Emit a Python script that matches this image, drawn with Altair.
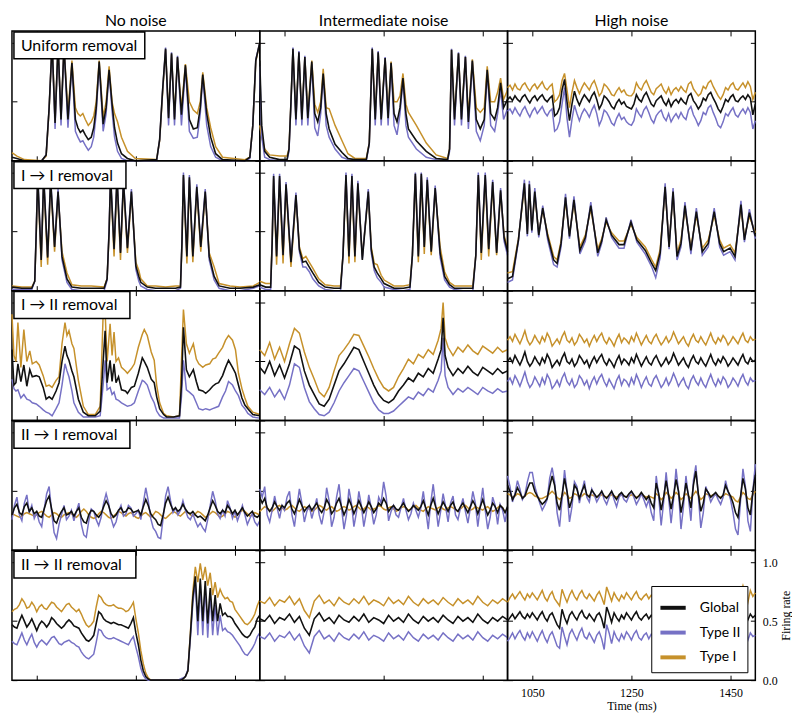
import altair as alt
import pandas as pd

COL_TITLES = ["No noise", "Intermediate noise", "High noise"]
ROW_LABELS = ["Uniform removal", "I \u2192 I removal", "I \u2192 II removal",
              "II \u2192 I removal", "II \u2192 II removal"]
SERIES = ["Global", "Type II", "Type I"]
COLORS = ["#111111", "#7671c5", "#c6912b"]
X_TICKS = [1050, 1250, 1450]
Y_TICKS = [0.0, 0.5, 1.0]
T5 = list(range(1000, 1501, 5))
T10 = list(range(1000, 1501, 10))

# ---------- Uniform removal / No noise ----------
A_t = [1000,1010,1025,1060,1069,1075,1081,1087,1093,1099,
       1105,1113,1121,1128,1133,1138,1143,1148,1154,1160,
       1165,1170,1176,1184,1190,1196,1202,1207,1213,1221,
       1233,1249,1292,1298,1304,1310,1316,1322,1328,1334,
       1342,1350,1358,1366,1374,1380,1385,1393,1401,1411,
       1425,1470,1480,1486,1492,1500]
A_glob = [3,2,0,0,5,45,100,32,99,35,
          97,35,83,35,28,24,26,22,18,20,
          28,45,84,31,45,77,48,28,15,6,
          2,0,1,18,60,95,36,91,35,88,
          39,81,35,27,28,45,73,40,20,6,
          1,0,3,30,85,100]
A_ii = [0,0,0,0,5,45,100,27,100,30,
        98,28,82,25,20,16,17,13,9,12,
        20,40,82,25,40,75,42,20,8,2,
        0,0,0,18,60,96,30,92,30,89,
        30,79,25,19,20,40,71,30,12,3,
        0,0,2,30,86,100]
A_i = [7,4,1,0,4,44,100,33,98,36,
       97,40,85,45,40,38,40,35,30,33,
       38,50,85,37,50,80,50,40,33,20,
       8,2,1,17,58,94,37,90,37,87,
       44,82,50,43,40,50,75,45,28,12,
       3,1,3,30,84,100]

# ---------- Uniform removal / Intermediate noise ----------
B_t = [1000,1004,1010,1020,1040,1055,1059,1063,1067,1073,
       1079,1085,1091,1097,1105,1111,1117,1123,1128,1134,
       1140,1152,1166,1178,1192,1215,1221,1227,1233,1239,
       1245,1253,1259,1265,1271,1277,1283,1289,1295,1300,
       1316,1336,1356,1379,1383,1387,1393,1401,1407,1415,
       1421,1429,1437,1445,1453,1459,1466,1474,1480,1486,
       1492,1500]
B_glob = [85,30,8,3,1,1,10,50,95,35,
          92,35,88,36,84,40,33,45,74,40,
          27,14,7,2,1,1,15,95,35,92,
          35,87,36,83,40,33,45,70,40,27,
          17,8,2,1,10,94,35,91,35,88,
          33,85,35,27,35,77,40,35,45,66,
          45,52]
B_ii = [80,20,3,1,0,0,8,48,96,30,
        93,30,89,30,82,28,21,40,72,30,
        20,10,3,1,0,0,14,96,30,93,
        30,88,30,82,30,22,40,68,30,20,
        10,3,1,0,8,95,30,92,30,89,
        27,84,25,17,30,75,30,25,40,60,
        35,44]
B_i = [30,20,10,5,4,4,10,50,95,36,
       92,37,88,40,85,48,41,50,78,45,
       44,30,17,6,2,2,15,95,37,92,
       37,87,40,84,50,50,55,74,48,41,
       30,15,5,2,10,94,37,91,37,88,
       38,86,45,41,45,80,50,50,58,70,
       52,60]

# ---------- Uniform removal / High noise (5 ms grid) ----------
C_glob = [52,54,51,55,52,50,54,56,52,49,
          53,55,51,54,56,52,50,53,55,38,
          40,45,60,69,50,34,48,59,52,47,
          52,56,53,50,55,58,52,44,48,55,
          53,50,46,44,49,52,48,50,46,45,
          44,48,56,52,50,55,58,53,48,46,
          51,53,55,50,47,52,46,50,52,49,
          53,50,48,55,57,51,48,44,47,53,
          51,56,58,53,49,44,41,46,52,50,
          54,56,51,50,53,55,52,56,53,39,
          48]
C_ii = [42,44,40,45,41,38,43,46,41,37,
        42,45,40,43,46,41,38,42,44,25,
        27,33,48,62,36,20,35,47,40,34,
        40,44,41,37,43,47,40,30,35,43,
        41,37,32,30,36,40,35,37,33,31,
        30,34,44,40,37,43,46,41,35,32,
        38,41,43,37,34,40,33,37,40,36,
        41,37,35,43,46,39,35,30,34,41,
        39,45,47,41,36,30,28,33,40,38,
        42,45,39,37,41,44,40,45,41,27,
        34]
C_i = [62,64,60,65,61,60,64,66,62,59,
       63,65,61,64,67,62,60,63,65,50,
       52,56,68,74,60,45,58,68,62,57,
       62,66,63,60,65,68,62,55,58,65,
       63,60,56,55,59,62,58,60,56,55,
       55,58,66,62,60,65,68,63,58,56,
       61,63,65,60,57,62,56,60,62,59,
       63,60,58,65,67,61,58,55,57,63,
       61,66,68,63,59,55,52,56,62,60,
       64,66,61,60,63,66,62,67,63,52,
       58]

# ---------- I -> I removal / No noise ----------
D_t = [1000,1020,1040,1046,1049,1052,1059,1064,1072,1078,
       1086,1093,1101,1111,1121,1140,1160,1186,1192,1196,
       1199,1206,1212,1219,1225,1233,1241,1250,1256,1260,
       1273,1290,1310,1330,1340,1343,1346,1353,1358,1365,
       1373,1381,1390,1398,1408,1418,1440,1460,1487,1500]
D_glob = [3,2,2,8,50,97,26,96,28,94,
          37,84,29,10,3,2,2,2,10,50,
          97,35,96,32,93,36,84,21,12,7,
          3,2,2,2,3,40,98,29,96,29,
          88,37,84,29,12,4,2,2,3,5]
D_ii = [1,1,1,8,52,99,27,98,29,96,
        38,86,26,7,1,0,0,0,9,52,
        99,36,98,33,95,37,86,18,8,4,
        1,0,0,0,2,42,100,30,98,30,
        90,38,86,26,9,2,0,0,2,4]
D_i = [4,3,3,8,48,95,20,94,22,92,
       33,82,33,15,5,4,4,3,10,48,
       95,29,94,26,91,32,82,24,17,10,
       4,4,3,4,4,38,96,23,94,24,
       86,33,82,32,20,6,4,3,4,7]

# ---------- I -> I removal / Intermediate noise ----------
E_t = [1000,1012,1022,1025,1028,1034,1040,1047,1053,1063,
       1073,1080,1087,1093,1100,1107,1119,1132,1150,1163,
       1168,1174,1180,1186,1192,1198,1207,1219,1225,1231,
       1237,1245,1251,1271,1290,1303,1308,1314,1320,1326,
       1332,1338,1346,1354,1364,1373,1383,1393,1410,1430,
       1436,1441,1447,1455,1462,1470,1478,1486,1493,1500]
E_glob = [5,3,3,40,97,29,97,30,90,24,
          81,35,24,25,20,15,7,3,2,2,
          30,98,29,97,29,91,26,84,35,20,
          15,10,6,2,2,3,30,99,29,99,
          37,94,33,87,32,12,5,2,2,2,
          30,98,32,98,35,92,32,85,45,33]
E_ii = [3,1,1,40,99,30,99,31,92,25,
        83,33,20,20,16,10,4,1,0,0,
        30,100,30,99,30,93,27,86,32,17,
        11,7,3,1,0,1,30,100,30,100,
        38,96,34,89,28,9,3,1,0,0,
        30,100,33,100,36,94,33,87,42,30]
E_i = [8,6,6,40,95,22,95,23,88,20,
       79,37,27,29,24,19,10,5,4,4,
       30,96,23,95,24,89,29,82,37,23,
       22,13,9,4,4,5,30,97,24,97,
       31,92,30,85,37,16,7,4,4,4,
       30,96,26,96,29,90,30,83,47,36]

# ---------- I -> I removal / High noise ----------
F_t = [1000,1010,1022,1034,1040,1044,1049,1055,1063,1071,
       1081,1093,1100,1108,1117,1125,1134,1146,1157,1168,
       1182,1190,1199,1210,1225,1235,1249,1261,1278,1291,
       1299,1308,1318,1326,1334,1342,1350,1358,1370,1381,
       1393,1405,1417,1428,1436,1449,1459,1471,1478,1488,
       1500]
F_glob = [10,12,43,91,48,90,51,84,47,70,
          46,26,23,40,79,46,77,34,45,72,
          32,42,60,47,39,39,58,43,34,23,
          17,32,88,37,84,29,40,72,34,67,
          33,40,67,40,33,36,29,73,43,66,
          46]
F_ii = [7,9,42,94,46,93,49,87,45,72,
        43,22,20,37,82,44,80,31,42,75,
        29,40,62,45,36,36,60,41,31,20,
        11,28,91,35,87,26,37,75,31,70,
        30,37,70,37,30,33,26,76,41,69,
        44]
F_i = [15,16,44,88,50,87,53,81,49,68,
       48,29,26,42,76,48,74,37,47,69,
       35,44,58,49,42,42,56,45,37,26,
       20,35,85,40,81,32,43,69,37,64,
       36,43,64,43,36,39,32,70,46,63,
       49]

# ---------- I -> II removal / No noise ----------
G_t = [1000,1004,1008,1012,1018,1024,1030,1036,1041,1049,
       1055,1063,1069,1075,1081,1089,1095,1101,1107,1111,
       1115,1121,1125,1134,1144,1154,1168,1178,1184,1188,
       1192,1198,1202,1206,1210,1215,1221,1229,1233,1241,
       1247,1255,1263,1267,1273,1281,1287,1292,1298,1306,
       1312,1326,1338,1342,1346,1352,1358,1366,1372,1377,
       1385,1391,1399,1405,1411,1417,1425,1431,1437,1445,
       1451,1457,1464,1470,1476,1486,1500]
G_glob = [60,30,32,48,33,47,29,43,37,38,
          37,28,18,20,18,25,32,50,63,55,
          51,42,37,18,7,4,4,8,50,76,
          32,51,33,48,32,37,26,25,23,28,
          29,40,53,50,45,35,32,20,10,5,
          3,3,4,30,79,43,37,43,33,26,
          25,23,26,29,31,32,38,45,51,45,
          40,30,19,13,10,5,4]
G_ii = [35,27,25,26,19,22,18,17,15,14,
        12,9,7,6,4,10,15,30,48,42,
        37,25,15,7,3,3,3,4,30,51,
        26,28,22,24,18,17,15,13,12,13,
        15,25,34,33,30,20,15,8,4,2,
        2,2,2,20,51,26,24,21,15,10,
        9,10,9,10,11,12,20,25,33,30,
        25,21,13,10,6,3,2]
G_i = [90,55,50,83,45,77,50,59,48,50,
       47,38,29,30,28,34,37,65,83,72,
       76,65,61,34,12,5,5,12,90,92,
       50,82,55,75,50,53,45,42,40,44,
       48,62,73,77,72,58,51,30,15,6,
       4,3,4,50,94,65,57,65,52,48,
       45,47,48,52,53,57,62,68,72,68,
       60,40,27,19,12,7,5]

# ---------- I -> II removal / Intermediate noise ----------
H_t = [1000,1010,1020,1030,1040,1050,1060,1070,1080,1090,
       1100,1110,1120,1130,1140,1150,1160,1170,1180,1190,
       1200,1210,1220,1230,1240,1250,1260,1270,1280,1290,
       1300,1310,1320,1330,1340,1350,1360,1366,1370,1374,
       1380,1390,1400,1410,1420,1430,1440,1450,1460,1470,
       1480,1490,1500]
H_glob = [45,40,50,38,47,36,48,63,60,42,
          30,22,14,12,18,30,42,48,55,62,
          60,50,40,30,22,17,15,18,25,30,
          36,33,40,37,44,40,52,60,87,55,
          45,38,44,40,46,41,38,45,42,39,
          44,40,42]
H_ii = [26,22,28,20,26,18,30,48,45,28,
        16,10,5,4,7,15,25,32,38,44,
        42,33,24,15,9,6,6,8,12,16,
        20,18,24,21,27,24,34,42,70,38,
        28,22,27,24,28,25,22,28,25,23,
        27,24,25]
H_i = [60,55,66,52,62,50,65,78,74,58,
       45,35,24,20,28,42,55,60,66,73,
       72,63,54,44,35,28,25,28,37,44,
       52,48,56,53,60,56,68,78,100,70,
       62,55,62,58,64,59,56,63,60,57,
       62,58,60]

# ---------- I -> II removal / High noise (5 ms grid) ----------
I_glob = [50,53,49,55,51,47,52,58,50,46,
          49,54,50,47,53,49,56,52,45,48,
          51,47,53,57,50,48,52,46,49,55,
          52,48,51,45,50,54,49,53,56,50,
          47,52,49,45,51,55,48,52,50,47,
          53,49,56,51,46,50,54,49,47,52,
          55,50,46,49,53,48,51,57,52,47,
          50,53,48,45,51,55,50,48,53,49,
          46,51,56,50,47,52,49,54,51,46,
          49,53,50,47,52,56,50,48,53,50,
          51]
I_ii = [33,36,31,38,34,29,35,41,33,28,
        31,37,33,29,36,31,39,35,27,30,
        34,29,36,40,33,30,35,28,31,38,
        35,30,34,27,33,37,31,36,39,33,
        29,35,31,27,34,38,30,35,33,29,
        36,31,39,34,28,33,37,31,29,35,
        38,33,28,31,36,30,34,40,35,29,
        33,36,30,27,34,38,33,30,36,31,
        28,34,39,33,29,35,31,37,34,28,
        31,36,33,29,35,39,33,30,36,33,
        34]
I_i = [68,71,67,73,69,65,70,76,68,64,
       67,72,68,65,71,67,74,70,63,66,
       69,65,71,75,68,66,70,64,67,73,
       70,66,69,63,68,72,67,71,74,68,
       65,70,67,63,69,73,66,70,68,65,
       71,67,74,69,64,68,72,67,65,70,
       73,68,64,67,71,66,69,75,70,65,
       68,71,66,63,69,73,68,66,71,67,
       64,69,74,68,65,70,67,72,69,64,
       67,71,68,65,70,74,68,66,71,68,
       69]

# ---------- II -> I removal / No noise (5 ms grid) ----------
J_glob = [30,36,39,32,30,37,40,33,36,31,
          33,29,28,35,42,46,35,25,23,29,
          33,36,30,31,33,29,33,36,28,24,
          23,30,34,33,30,28,31,37,42,38,
          31,28,30,34,36,32,33,36,35,32,
          33,34,30,37,43,38,31,28,26,22,
          21,30,40,45,39,34,36,33,35,39,
          35,32,31,33,30,28,29,27,25,30,
          36,42,38,33,31,34,32,38,35,31,
          34,30,33,36,32,29,31,33,29,28,
          30]
J_ii = [26,38,45,30,25,40,47,32,38,27,
        32,24,20,35,48,54,33,15,10,22,
        30,38,26,29,34,25,33,40,22,13,
        11,25,35,33,26,21,28,40,48,40,
        27,20,24,33,38,29,31,38,36,29,
        31,34,26,40,53,42,27,19,16,11,
        10,27,46,54,42,32,36,30,34,42,
        34,28,26,31,25,20,23,19,16,26,
        38,50,42,31,27,34,29,42,36,27,
        33,25,31,38,30,22,27,31,24,21,
        25]
J_i = [31,30,29,28,29,31,32,31,30,29,
       30,32,33,31,29,28,30,32,31,29,
       28,30,31,32,31,29,28,30,33,35,
       33,30,28,27,28,31,33,32,30,28,
       27,29,31,33,32,30,29,31,32,30,
       28,27,29,31,32,30,28,30,33,32,
       30,28,27,29,31,33,32,30,29,31,
       33,32,30,29,31,33,32,30,28,29,
       31,33,32,30,28,29,31,33,32,30,
       28,30,32,34,33,31,29,30,32,31,
       30]

# ---------- II -> I removal / Intermediate noise (5 ms grid) ----------
K_glob = [45,40,44,36,33,36,41,37,34,38,
          36,40,42,35,31,37,43,38,33,36,
          38,34,37,40,35,32,36,43,39,31,
          34,40,44,37,30,35,43,38,31,36,
          42,37,32,36,41,37,32,35,40,38,
          44,40,33,36,38,35,34,37,40,36,
          33,35,38,36,34,37,42,36,30,38,
          44,37,31,36,41,37,33,38,41,35,
          33,37,40,36,32,37,42,38,31,37,
          43,36,30,34,40,37,32,38,36,32,
          37]
K_ii = [52,45,54,30,24,34,46,36,27,38,
        34,45,50,30,20,37,52,40,24,33,
        38,27,35,44,30,22,33,53,42,20,
        28,45,56,36,18,30,52,40,20,32,
        50,38,20,32,47,36,22,30,45,40,
        58,46,25,33,38,30,28,36,44,34,
        26,31,40,34,28,36,50,34,18,40,
        56,38,20,33,48,37,24,40,46,30,
        26,36,44,33,23,36,50,40,20,37,
        53,34,18,28,45,38,22,39,34,24,
        36]
K_i = [33,35,37,36,34,33,35,37,38,36,
       34,35,37,38,36,34,33,35,37,36,
       35,33,34,36,38,37,35,34,36,37,
       35,33,34,36,37,36,34,35,37,38,
       36,34,35,37,36,34,35,36,38,37,
       35,34,36,37,35,33,34,36,37,36,
       34,35,37,38,36,34,33,35,37,36,
       35,34,36,37,35,34,36,37,36,34,
       33,35,37,38,36,34,35,37,36,35,
       34,36,37,35,33,34,36,38,36,33,
       32]

# ---------- II -> I removal / High noise (5 ms grid) ----------
L_glob = [55,50,43,47,53,49,44,46,52,57,
          57,50,46,42,39,41,44,54,63,55,
          40,34,47,61,50,36,43,55,52,44,
          50,55,47,45,51,48,45,47,50,46,
          44,47,50,46,43,47,49,46,45,48,
          50,47,44,46,49,46,43,46,40,36,
          57,48,34,45,59,47,35,46,60,50,
          32,43,57,47,36,55,67,48,33,40,
          52,49,45,47,49,46,44,47,55,50,
          46,40,32,28,45,61,52,36,30,50,
          64]
L_ii = [63,54,41,48,59,52,43,47,58,66,
        66,54,47,40,34,38,43,61,70,58,
        32,20,43,68,50,24,37,58,54,40,
        50,59,45,41,52,47,41,45,50,43,
        39,45,50,43,37,45,48,43,41,46,
        50,45,39,43,48,43,37,43,32,25,
        63,46,21,41,66,45,23,43,69,50,
        18,37,63,45,25,59,72,46,19,32,
        54,48,41,45,48,43,39,45,59,50,
        43,32,18,13,41,69,54,25,16,50,
        73]
L_i = [48,47,45,46,48,47,45,46,48,49,
       48,46,45,44,44,45,46,48,50,48,
       45,43,45,49,47,44,45,48,47,45,
       46,48,47,46,47,46,45,46,47,46,
       45,46,47,46,45,46,47,46,45,46,
       47,46,45,46,47,46,45,46,45,44,
       48,46,43,45,49,47,44,46,49,47,
       43,45,48,46,44,47,50,47,43,45,
       48,47,46,47,47,46,45,46,48,47,
       46,45,42,41,45,49,47,44,43,47,
       50]

# ---------- II -> II removal / No noise (5 ms grid) ----------
M_glob = [47,45,44,50,55,50,45,48,52,47,
          42,47,50,48,45,48,53,51,48,46,
          44,46,49,51,49,46,45,44,40,37,
          34,33,35,38,48,58,56,52,50,49,
          48,49,48,47,47,46,45,44,48,53,
          40,30,17,8,3,1,0,0,0,0,
          0,0,0,0,0,0,0,0,0,1,
          3,8,38,70,88,50,86,50,84,48,
          78,50,72,50,65,55,57,54,54,52,
          48,45,42,39,37,36,38,42,45,52,
          55]
M_ii = [33,31,30,35,40,34,30,35,39,32,
        28,32,34,32,30,33,36,37,34,31,
        30,32,33,34,32,31,29,28,24,21,
        19,18,20,22,32,43,42,38,36,35,
        35,36,35,34,33,32,31,30,34,37,
        28,20,10,4,1,0,0,0,0,0,
        0,0,0,0,0,0,0,0,1,2,
        3,9,35,65,83,38,82,38,80,36,
        74,38,64,38,55,42,44,41,40,38,
        35,32,29,25,22,21,24,27,31,37,
        40]
M_i = [58,60,61,64,69,66,61,62,66,63,
       58,62,64,61,60,63,66,65,62,60,
       58,61,64,65,62,60,58,60,56,51,
       47,45,47,50,62,72,70,66,64,63,
       63,64,62,61,61,60,58,59,62,66,
       52,40,25,14,6,2,0,0,0,0,
       0,0,0,0,0,0,0,0,0,1,
       3,8,40,75,96,83,99,85,96,80,
       91,72,83,70,77,72,69,70,67,66,
       60,57,54,51,48,47,49,52,56,63,
       68]

# ---------- II -> II removal / Intermediate noise (10 ms grid) ----------
N_glob = [52,50,55,48,53,51,56,49,54,44,
          38,52,57,50,53,48,55,51,49,54,
          50,56,49,53,51,48,55,50,53,49,
          56,51,48,54,50,53,49,55,51,48,
          54,50,53,49,56,51,48,53,50,54,
          51]
N_ii = [37,35,40,33,38,36,41,34,39,29,
        23,37,42,35,38,33,40,36,34,39,
        35,41,34,38,36,33,40,35,38,34,
        41,36,33,39,35,38,34,40,36,33,
        39,35,38,34,41,36,33,38,35,39,
        36]
N_i = [67,65,70,63,68,66,71,64,69,59,
       53,67,72,65,68,63,70,66,64,69,
       65,71,64,68,66,63,70,65,68,64,
       71,66,63,69,65,68,64,70,66,63,
       69,65,68,64,71,66,63,68,65,69,
       66]

# ---------- II -> II removal / High noise (5 ms grid) ----------
O_glob = [50,53,56,52,55,58,54,52,56,53,
          57,54,51,55,58,53,50,55,57,52,
          47,44,60,53,48,55,58,54,51,56,
          59,54,52,56,53,50,55,57,52,44,
          62,56,49,57,53,50,55,52,57,54,
          51,55,58,53,51,54,56,52,55,53,
          54,56,52,55,57,53,51,55,58,54,
          52,55,57,53,50,54,57,55,52,56,
          58,54,51,55,57,53,50,54,58,55,
          52,56,53,50,55,58,54,51,56,53,
          55]
O_ii = [33,36,40,35,39,42,37,34,40,36,
        41,37,33,38,42,36,32,38,41,35,
        29,27,45,37,30,39,43,38,34,40,
        44,37,35,40,36,32,38,41,35,26,
        47,40,31,41,36,33,39,35,41,38,
        34,39,42,36,34,38,40,35,39,37,
        38,40,35,39,41,36,34,39,42,38,
        35,39,41,36,33,38,41,39,35,40,
        42,38,34,39,41,36,33,38,42,39,
        35,40,37,33,39,42,38,34,40,37,
        38]
O_i = [66,70,73,69,72,75,71,68,73,70,
       74,71,68,72,76,70,67,72,75,69,
       66,63,77,71,66,72,76,71,68,73,
       76,71,69,73,70,67,72,75,70,64,
       79,73,67,74,70,67,72,69,74,71,
       68,72,75,70,68,71,73,69,72,70,
       71,73,69,72,75,70,66,64,72,76,
       70,68,74,71,67,72,75,72,68,73,
       76,71,68,72,74,70,67,72,77,73,
       69,74,71,67,73,80,72,66,76,71,
       74]

PANELS = [
    [(A_t, A_glob, A_ii, A_i), (B_t, B_glob, B_ii, B_i), (T5, C_glob, C_ii, C_i)],
    [(D_t, D_glob, D_ii, D_i), (E_t, E_glob, E_ii, E_i), (F_t, F_glob, F_ii, F_i)],
    [(G_t, G_glob, G_ii, G_i), (H_t, H_glob, H_ii, H_i), (T5, I_glob, I_ii, I_i)],
    [(T5, J_glob, J_ii, J_i), (T5, K_glob, K_ii, K_i), (T5, L_glob, L_ii, L_i)],
    [(T5, M_glob, M_ii, M_i), (T10, N_glob, N_ii, N_i), (T5, O_glob, O_ii, O_i)],
]

W, H = 250, 131
BOX_W = [132, 113, 117, 117, 123]


def make_axis(orient, vals, show, title, fmt):
    kw = dict(orient=orient, values=vals, offset=-5, tickSize=5, tickWidth=1,
              tickColor="black", domain=False, grid=False, labels=show, format=fmt,
              title=title)
    if show:
        kw.update(labelPadding=7, titlePadding=3)
        if orient == "right":
            kw.update(titleAngle=270, titleBaseline="top")
    else:
        kw.update(labelPadding=0, minExtent=0, maxExtent=0)
    return alt.Axis(**kw)


def make_panel(r, c):
    t, g, t2, t1 = PANELS[r][c]
    recs = []
    for name, vals in (("Type I", t1), ("Type II", t2), ("Global", g)):
        recs += [{"t": a, "v": b / 100.0, "series": name} for a, b in zip(t, vals)]
    df = pd.DataFrame(recs)
    last = (r == 4 and c == 2)
    xs = alt.Scale(domain=[1000, 1500], nice=False, zero=False)
    ys = alt.Scale(domain=[0, 1.1], nice=False, zero=False)
    if last:
        leg = alt.Legend(title=None, orient="bottom-right", offset=8, padding=7,
                         strokeColor="black", fillColor="white", cornerRadius=0,
                         symbolType="stroke", symbolStrokeWidth=4, symbolSize=650,
                         labelFont="Lato", labelFontSize=14, labelColor="black",
                         rowPadding=2, labelOffset=12)
    else:
        leg = None
    color = alt.Color("series:N", scale=alt.Scale(domain=SERIES, range=COLORS), legend=leg)
    base = alt.Chart(df)
    l1 = base.transform_filter(alt.datum.series == "Type I").mark_line(strokeWidth=1.5).encode(
        x=alt.X("t:Q", scale=xs, axis=make_axis("bottom", X_TICKS, last, "Time (ms)" if last else None, "d")),
        y=alt.Y("v:Q", scale=ys, axis=make_axis("left", Y_TICKS, False, None, ".1f")),
        color=color)
    l2 = base.transform_filter(alt.datum.series == "Type II").mark_line(strokeWidth=1.5).encode(
        x=alt.X("t:Q", scale=xs, axis=make_axis("top", X_TICKS, False, None, "d")),
        y=alt.Y("v:Q", scale=ys, axis=make_axis("right", Y_TICKS, last, "Firing rate" if last else None, ".1f")),
        color=color)
    l3 = base.transform_filter(alt.datum.series == "Global").mark_line(strokeWidth=1.6).encode(
        x=alt.X("t:Q", scale=xs, axis=None),
        y=alt.Y("v:Q", scale=ys, axis=None),
        color=color)
    layers = [l1, l2, l3]
    if c == 0:
        box = pd.DataFrame({"label": [ROW_LABELS[r]]})
        rect = alt.Chart(box).mark_rect(fill="white", stroke="black", strokeWidth=1.5).encode(
            x=alt.value(2), x2=alt.value(2 + BOX_W[r]), y=alt.value(1), y2=alt.value(28))
        txt = alt.Chart(box).mark_text(align="left", baseline="middle", font="Lato",
                                       fontSize=16, color="black").encode(
            x=alt.value(9), y=alt.value(15), text="label:N")
        layers += [rect, txt]
    ch = alt.layer(*layers).resolve_axis(x="independent", y="independent").properties(width=W, height=H)
    if r == 0:
        ch = ch.properties(title=COL_TITLES[c])
    return ch


panels = [make_panel(r, c) for r in range(5) for c in range(3)]

chart = (alt.concat(*panels, columns=3, spacing=0, bounds="flush")
         .resolve_scale(color="independent")
         .properties(padding=0)
         .configure_view(stroke="black", strokeWidth=1.5)
         .configure_title(font="Lato", fontSize=16, fontWeight="normal", color="black",
                          anchor="middle", offset=2)
         .configure_axis(labelFont="Liberation Serif", labelFontSize=12, labelColor="black",
                         titleFont="Liberation Serif", titleFontSize=12,
                         titleFontWeight="normal", titleColor="black"))

chart.save("out.html", embed_options={"renderer": "svg", "actions": False})
